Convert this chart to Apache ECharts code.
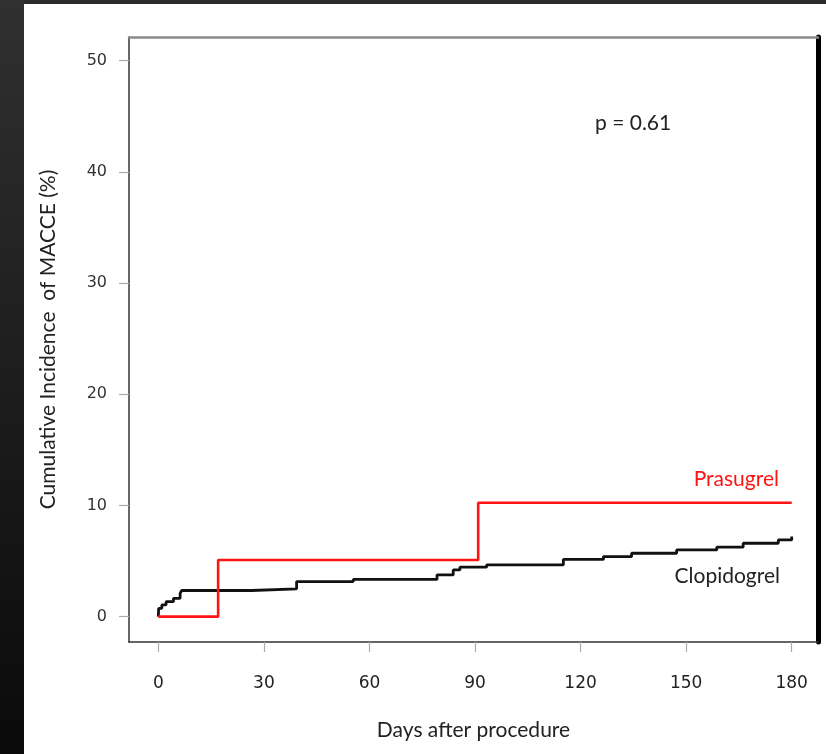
<!DOCTYPE html>
<html><head><meta charset="utf-8">
<script src="https://cdn.jsdelivr.net/npm/echarts@6/dist/echarts.min.js"></script>
<style>html,body{margin:0;padding:0;background:#fff}#c{width:826px;height:754px}</style>
</head><body><div id="c"></div>
<script>
// ---- data ----
const xTicks = [0, 30, 60, 90, 120, 150, 180];
const yTicks = [0, 10, 20, 30, 40, 50];
const prasugrelDays = [0, 17, 90.9, 180];
const prasugrelValues = [0, 5.1, 10.25, 10.25];
const clopidogrelDays = [0, 0.1, 1.0, 2.2, 4.3, 6.2, 6.6, 26.5, 39.3, 55.4, 79.2, 83.8, 85.7, 93.3, 115.1, 126.5, 134.5, 147.3, 158.7, 166.2, 176.2, 180];
const clopidogrelValues = [0, 0.75, 1.05, 1.35, 1.65, 2.1, 2.35, 2.5, 3.15, 3.35, 3.75, 4.2, 4.45, 4.65, 5.15, 5.4, 5.7, 6.0, 6.25, 6.6, 6.9, 7.2];
const seriesNames = ['Prasugrel', 'Clopidogrel'];
const xTitle = 'Days after procedure';
const yTitle = 'Cumulative Incidence  of MACCE (%)';
const pText = 'p = 0.61';

const zip = (a, b) => a.map((v, i) => [v, b[i]]);
const txtFont = 'Lato, "Open Sans", sans-serif';
const numFont = '"DejaVu Sans", Verdana, sans-serif';

const chart = echarts.init(document.getElementById('c'), null, {renderer: 'canvas'});
chart.setOption({
  backgroundColor: '#ffffff',
  animation: false,
  grid: {left: 129, top: 37, right: 8, bottom: 112, containLabel: false},
  xAxis: [{
    type: 'value', min: -8.33, max: 187.47, position: 'bottom',
    splitLine: {show: false},
    axisLine: {show: true, onZero: false, lineStyle: {color: '#333', width: 1.5}},
    axisTick: {show: true, inside: false, length: 10, customValues: xTicks, lineStyle: {color: '#aaa', width: 1.2}},
    axisLabel: {customValues: xTicks, margin: 33, color: '#222', fontSize: 17, fontFamily: numFont, formatter: v => String(v)},
    name: xTitle, nameLocation: 'middle', nameGap: 78,
    nameTextStyle: {color: '#222', fontSize: 21, fontFamily: txtFont}
  }, {
    type: 'value', min: -8.33, max: 187.47, position: 'top',
    splitLine: {show: false}, axisTick: {show: false}, axisLabel: {show: false},
    axisLine: {show: true, onZero: false, lineStyle: {color: '#8a8a8a', width: 2.5}}
  }],
  yAxis: [{
    type: 'value', min: -2.28, max: 52.13, position: 'left',
    splitLine: {show: false},
    axisLine: {show: true, onZero: false, lineStyle: {color: '#333', width: 1.5}},
    axisTick: {show: true, inside: false, length: 10, customValues: yTicks, lineStyle: {color: '#aaa', width: 1.2}},
    axisLabel: {customValues: yTicks, margin: 22, color: '#333', fontSize: 16, fontFamily: numFont, formatter: v => String(v)},
    name: yTitle, nameLocation: 'middle', nameGap: 70, nameRotate: 90,
    nameTextStyle: {color: '#222', fontSize: 21, fontFamily: txtFont}
  }, {
    type: 'value', min: -2.28, max: 52.13, position: 'right',
    splitLine: {show: false}, axisTick: {show: false}, axisLabel: {show: false},
    axisLine: {show: true, onZero: false, lineStyle: {color: '#000', width: 5}}
  }],
  series: [{
    name: seriesNames[1], type: 'line', step: 'end', showSymbol: false, z: 2,
    data: zip(clopidogrelDays, clopidogrelValues),
    lineStyle: {color: '#111', width: 2.8}
  }, {
    name: seriesNames[0], type: 'line', step: 'end', showSymbol: false, z: 3,
    data: zip(prasugrelDays, prasugrelValues),
    lineStyle: {color: '#ff1414', width: 2.6}
  }],
  graphic: [
    {type: 'rect', left: 0, top: 0, shape: {width: 826, height: 4}, style: {fill: '#2b2b2b'}, silent: true},
    {type: 'rect', left: 0, top: 0, shape: {width: 24, height: 754}, silent: true,
      style: {fill: new echarts.graphic.LinearGradient(0, 0, 0, 1, [{offset: 0, color: '#303030'}, {offset: 1, color: '#0a0a0a'}])}},
    {type: 'text', x: 779, y: 479, silent: true,
      style: {text: seriesNames[0], fill: '#ff1414', font: '21px ' + txtFont, align: 'right', verticalAlign: 'middle'}},
    {type: 'text', x: 780, y: 576, silent: true,
      style: {text: seriesNames[1], fill: '#222', font: '21px ' + txtFont, align: 'right', verticalAlign: 'middle'}},
    {type: 'text', x: 595, y: 123, silent: true,
      style: {text: pText, fill: '#222', font: '21px ' + txtFont, align: 'left', verticalAlign: 'middle'}}
  ]
});
</script></body></html>
